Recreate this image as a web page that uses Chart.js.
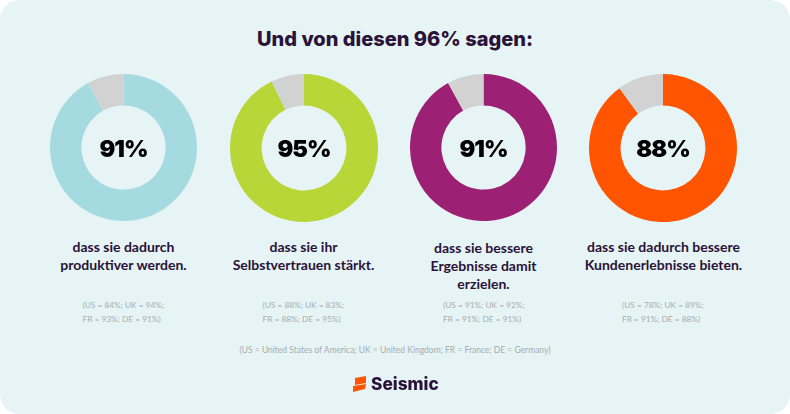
<!DOCTYPE html>
<html lang="de"><head><meta charset="utf-8">
<script src="https://cdn.jsdelivr.net/npm/chart.js@4"></script>
<style>
html,body{margin:0;padding:0;width:790px;height:414px;overflow:hidden;background:#fff}
#panel{position:absolute;left:0;top:0;width:790px;height:414px;background:#e6f4f6;border-radius:20px;overflow:hidden}
.t{position:absolute;white-space:nowrap}
canvas{position:absolute;display:block}
#title{left:0;width:790px;top:25px;text-align:center;font:800 20px/28px Inter,sans-serif;color:#2a1238}
.pct{font:900 23.5px/30px Inter,sans-serif;letter-spacing:-1px;color:#000;text-align:center;width:120px;transform:translateX(-60px)}
.cap{font:700 14px/18px Lato,sans-serif;color:#2a1238;text-align:center;width:190px;transform:translateX(-95px);white-space:normal}
.small{font:400 8.3px/14px Lato,sans-serif;color:#a6acae}
#foot{left:0;width:790px;text-align:center;top:343px;font:400 8.5px/14px Lato,sans-serif;color:#a6acae}
#brand{left:371px;top:372px;font:800 17.3px/24px Inter,sans-serif;color:#2a1238}
svg{position:absolute;left:0;top:0}
</style></head><body>
<div id="panel">
<div id="title" class="t"></div>
<div id="host"></div>
<div id="foot" class="t"></div>
<svg width="790" height="414"><polygon points="355,378 366,376 366,383 355,385" fill="#ff5500"/><polygon points="353,386 366,384 365,389 353,392" fill="#ff5500"/></svg>
<div id="brand" class="t">Seismic</div>
</div>
<script>
const titleText = "Und von diesen 96% sagen:";
const percentLabels = ["91%", "95%", "91%", "88%"];
const ringShare = [92, 92.8, 92, 90];
const restShare = [8, 7.2, 8, 10];
const ringColors = ["#a5dbe0", "#b9d638", "#9c2174", "#ff5500"];
const restColor = "#d2d2d2";
const captions = [
  ["dass sie dadurch", "produktiver werden."],
  ["dass sie ihr", "Selbstvertrauen stärkt."],
  ["dass sie bessere", "Ergebnisse damit", "erzielen."],
  ["dass sie dadurch bessere", "Kundenerlebnisse bieten."]
];
const countryNotes = [
  ["(US = 84%; UK = 94%;", "FR = 93%; DE = 91%)"],
  ["(US = 88%; UK = 83%;", "FR = 88%; DE = 95%)"],
  ["(US = 91%; UK = 92%;", "FR = 91%; DE = 91%)"],
  ["(US = 78%; UK = 89%;", "FR = 91%; DE = 88%)"]
];
const footnote = "(US = United States of America; UK = United Kingdom; FR = France; DE = Germany)";

const lefts = [50, 230, 410, 589];
const sizes = [147, 148, 147, 148];
const capCenters = [123.5, 303.5, 483.5, 663.5];
const capTops = [238, 238, 239, 238];
const noteLefts = [82.5, 262.5, 443, 622];

document.getElementById("title").textContent = titleText;
document.getElementById("foot").textContent = footnote;
const host = document.getElementById("host");
percentLabels.forEach((label, i) => {
  const c = document.createElement("canvas");
  c.width = sizes[i]; c.height = sizes[i];
  c.style.left = lefts[i] + "px"; c.style.top = "74px";
  c.style.width = sizes[i] + "px"; c.style.height = sizes[i] + "px";
  host.appendChild(c);
  new Chart(c, {
    type: "doughnut",
    data: { labels: ["Ja", "Rest"], datasets: [{
      data: [ringShare[i], restShare[i]],
      backgroundColor: [ringColors[i], restColor],
      borderWidth: 0, hoverOffset: 0
    }]},
    options: { responsive: false, animation: false, cutout: "57.3%",
      plugins: { legend: { display: false }, tooltip: { enabled: false } } }
  });
  const p = document.createElement("div");
  p.className = "t pct"; p.textContent = label;
  p.style.left = (lefts[i] + sizes[i] / 2) + "px"; p.style.top = "134px";
  host.appendChild(p);
  const cap = document.createElement("div");
  cap.className = "t cap"; cap.innerHTML = captions[i].join("<br>");
  cap.style.left = capCenters[i] + "px"; cap.style.top = capTops[i] + "px";
  host.appendChild(cap);
  const n = document.createElement("div");
  n.className = "t small"; n.innerHTML = countryNotes[i].join("<br>");
  n.style.left = noteLefts[i] + "px"; n.style.top = "298px";
  host.appendChild(n);
});
</script>
</body></html>
